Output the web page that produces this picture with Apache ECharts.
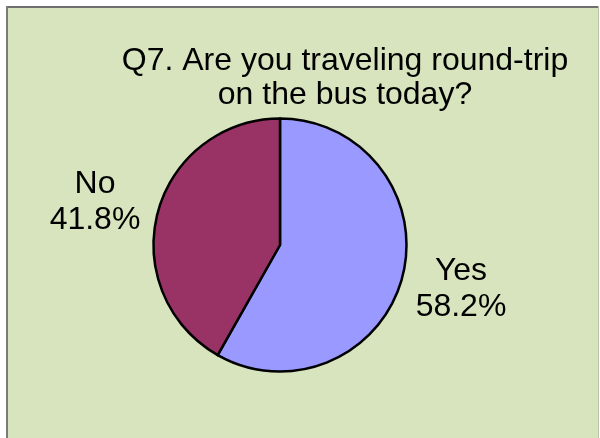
<!DOCTYPE html>
<html>
<head>
<meta charset="utf-8">
<script src="https://cdn.jsdelivr.net/npm/echarts@6/dist/echarts.min.js"></script>
<style>
  html, body { margin: 0; padding: 0; background: #ffffff; }
  #chart { width: 600px; height: 438px; }
</style>
</head>
<body>
<div id="chart"></div>
<script>
// Survey answers for Q7
const categories = ['Yes', 'No'];
const shares = [58.2, 41.8];
const sliceColors = ['#9999FF', '#993366'];
const titleText = 'Q7. Are you traveling round-trip\non the bus today?';

// Where each slice's label block sits (centre of text)
const labelSpots = {
  Yes: [461, 289],
  No: [95, 202]
};

const chart = echarts.init(document.getElementById('chart'), null, { renderer: 'canvas' });

chart.setOption({
  backgroundColor: '#ffffff',
  animation: false,
  graphic: [
    { type: 'rect', shape: { x: 6, y: 6, width: 592, height: 440 }, style: { fill: '#D7E4BD' }, silent: true, z: -10 },
    { type: 'line', shape: { x1: 6, y1: 7, x2: 598, y2: 7 }, style: { stroke: '#6f6f6f', lineWidth: 2 }, silent: true, z: -9 },
    { type: 'line', shape: { x1: 7, y1: 6, x2: 7, y2: 438 }, style: { stroke: '#7a7a7a', lineWidth: 2 }, silent: true, z: -9 },
    { type: 'line', shape: { x1: 598.5, y1: 6, x2: 598.5, y2: 438 }, style: { stroke: '#b9c2a4', lineWidth: 1 }, silent: true, z: -9 }
  ],
  title: {
    text: titleText,
    left: 340,
    top: 39,
    textAlign: 'center',
    textStyle: {
      fontFamily: 'Liberation Sans, Arial, sans-serif',
      fontSize: 32,
      fontWeight: 'normal',
      color: '#000000',
      lineHeight: 34
    }
  },
  series: [{
    type: 'pie',
    center: [280, 245],
    radius: 126.5,
    startAngle: 90,
    clockwise: true,
    data: categories.map((c, i) => ({ name: c, value: shares[i], itemStyle: { color: sliceColors[i] } })),
    itemStyle: { borderColor: '#000000', borderWidth: 2.5 },
    label: {
      show: true,
      position: 'outside',
      formatter: p => p.name + '\n' + p.value.toFixed(1) + '%',
      fontFamily: 'Liberation Sans, Arial, sans-serif',
      fontSize: 32,
      lineHeight: 36,
      color: '#000000',
      align: 'center'
    },
    labelLine: { show: false },
    labelLayout: p => {
      const spot = labelSpots[categories[p.dataIndex]];
      return { x: spot[0], y: spot[1], align: 'center', verticalAlign: 'middle' };
    },
    emphasis: { disabled: true }
  }]
});
</script>
</body>
</html>
